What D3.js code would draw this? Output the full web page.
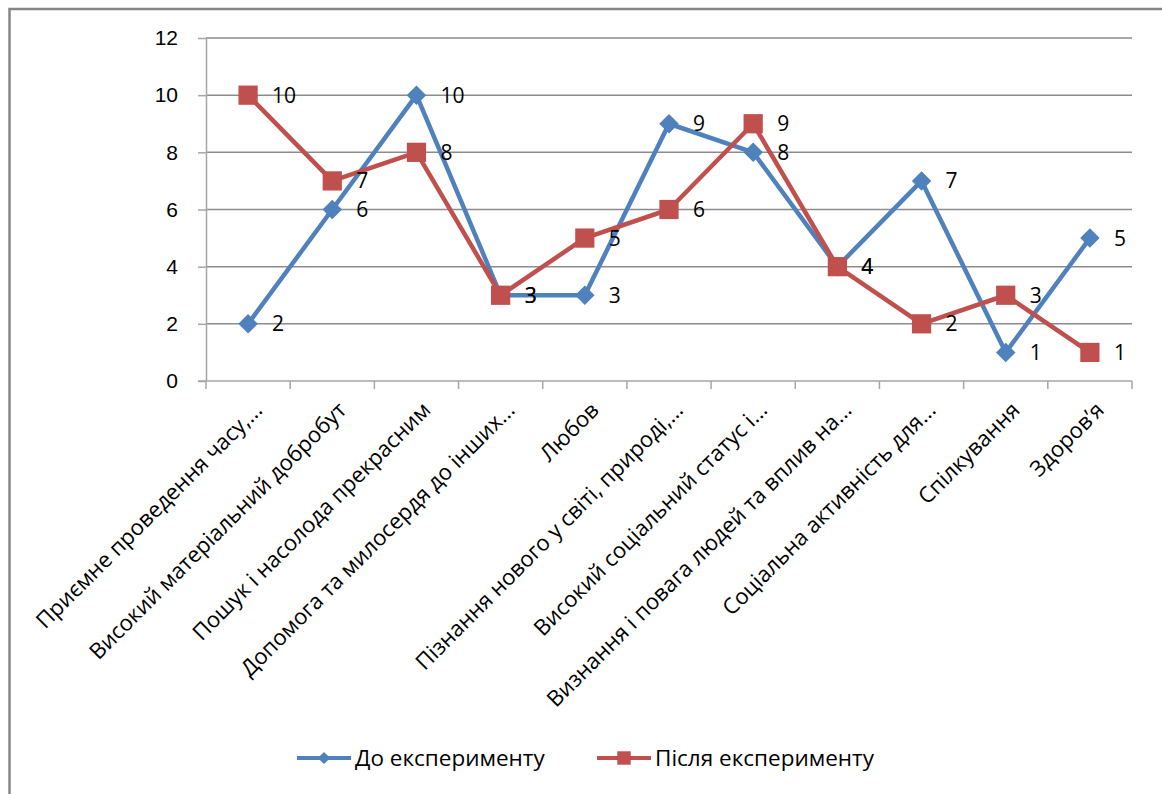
<!DOCTYPE html>
<html>
  <head>
    <meta charset="utf-8">
    <script src="https://cdnjs.cloudflare.com/ajax/libs/d3/7.8.5/d3.min.js"></script>
    <style>
      body { margin: 0; background: #fff; }
      svg { display: block; font-family: "Open Sans", sans-serif; }
      .grid line { stroke: #8c8c8c; stroke-width: 1.5; }
      .axis path, .axis line { stroke: #a6a6a6; stroke-width: 1.5; }
      .axis text { fill: #000; font-size: 21px; }
      .cat text { fill: #000; font-size: 22px; }
      .lbl { fill: #000; font-size: 21px; }
      .legend text { fill: #000; font-size: 22.5px; }
    </style>
  </head>
  <body>
    <svg width="1162" height="794"></svg>
    <script>
      // data
      var categories = [
        "Приємне проведення часу,...",
        "Високий матеріальний добробут",
        "Пошук і насолода прекрасним",
        "Допомога та милосердя до інших...",
        "Любов",
        "Пізнання нового у світі, природі,...",
        "Високий соціальний статус і...",
        "Визнання і повага людей та вплив на...",
        "Соціальна активність для...",
        "Спілкування",
        "Здоров’я"
      ];
      var before = [2, 6, 10, 3, 3, 9, 8, 4, 7, 1, 5];
      var after = [10, 7, 8, 3, 5, 6, 9, 4, 2, 3, 1];
      var yTicks = [0, 2, 4, 6, 8, 10, 12];
      var seriesNames = ["До експерименту", "Після експерименту"];

      var blue = "#4f81bd", red = "#c0504d";

      var svg = d3.select("svg");

      // outer frame
      svg.append("rect")
        .attr("x", 9.5).attr("y", 9).attr("width", 1200).attr("height", 820)
        .attr("fill", "none").attr("stroke", "#868686").attr("stroke-width", 2.5);

      var pLeft = 206, pRight = 1132, pTop = 38, pBottom = 381;

      var x = d3.scaleBand().domain(categories).range([pLeft, pRight]).padding(0);
      var y = d3.scaleLinear().domain([0, 12]).range([pBottom, pTop]);
      var cx = d => x(d) + x.bandwidth() / 2;

      // gridlines
      svg.append("g").attr("class", "grid")
        .selectAll("line").data(yTicks.slice(1)).enter().append("line")
        .attr("x1", pLeft).attr("x2", pRight)
        .attr("y1", d => y(d)).attr("y2", d => y(d));

      // y axis
      svg.append("g").attr("class", "axis")
        .attr("transform", "translate(" + pLeft + ",0)")
        .call(d3.axisLeft(y).tickValues(yTicks).tickSize(8).tickSizeOuter(0).tickPadding(20));

      // x axis with ticks at category boundaries
      var xg = svg.append("g").attr("class", "axis");
      xg.append("line").attr("x1", pLeft - 8).attr("x2", pRight)
        .attr("y1", pBottom).attr("y2", pBottom);
      var bounds = categories.map(d => x(d)).concat([pRight]);
      xg.selectAll("line.tk").data(bounds).enter().append("line")
        .attr("class", "tk")
        .attr("x1", d => d).attr("x2", d => d)
        .attr("y1", pBottom).attr("y2", pBottom + 8);

      // category labels
      svg.append("g").attr("class", "cat")
        .selectAll("text").data(categories).enter().append("text")
        .attr("transform", d => "translate(" + (cx(d) + 10) + "," + (pBottom + 25) + ") rotate(-45)")
        .attr("text-anchor", "end")
        .attr("dy", "0.35em")
        .text(d => d);

      var line = d3.line().x((d, i) => cx(categories[i])).y(d => y(d));

      function drawSeries(values, color, size, rot) {
        var g = svg.append("g");
        g.append("path").datum(values)
          .attr("d", line)
          .attr("fill", "none").attr("stroke", color).attr("stroke-width", 4.5)
          .attr("stroke-linejoin", "round");
        g.selectAll("path.m").data(values).enter().append("path")
          .attr("class", "m")
          .attr("d", d3.symbol().type(d3.symbolSquare).size(size))
          .attr("transform", (d, i) => "translate(" + cx(categories[i]) + "," + y(d) + ") rotate(" + rot + ")")
          .attr("fill", color);
      }

      drawSeries(before, blue, 190, 45);
      drawSeries(after, red, 370, 0);

      // data labels
      function drawLabels(values) {
        svg.append("g").selectAll("text").data(values).enter().append("text")
          .attr("class", "lbl")
          .attr("x", (d, i) => cx(categories[i]) + 24)
          .attr("y", d => y(d))
          .attr("dy", "0.36em")
          .text(d => d);
      }
      drawLabels(before);
      drawLabels(after);

      // legend
      var legend = svg.append("g").attr("class", "legend");
      var items = [
        { name: seriesNames[0], color: blue, x: 297, size: 75, rot: 45 },
        { name: seriesNames[1], color: red, x: 597, size: 180, rot: 0 }
      ];
      items.forEach(function (it) {
        legend.append("line")
          .attr("x1", it.x).attr("x2", it.x + 54)
          .attr("y1", 758).attr("y2", 758)
          .attr("stroke", it.color).attr("stroke-width", 4);
        legend.append("path")
          .attr("d", d3.symbol().type(d3.symbolSquare).size(it.size))
          .attr("transform", "translate(" + (it.x + 27) + ",758) rotate(" + it.rot + ")")
          .attr("fill", it.color);
        legend.append("text")
          .attr("x", it.x + 58).attr("y", 758).attr("dy", "0.35em")
          .text(it.name);
      });
    </script>
  </body>
</html>
